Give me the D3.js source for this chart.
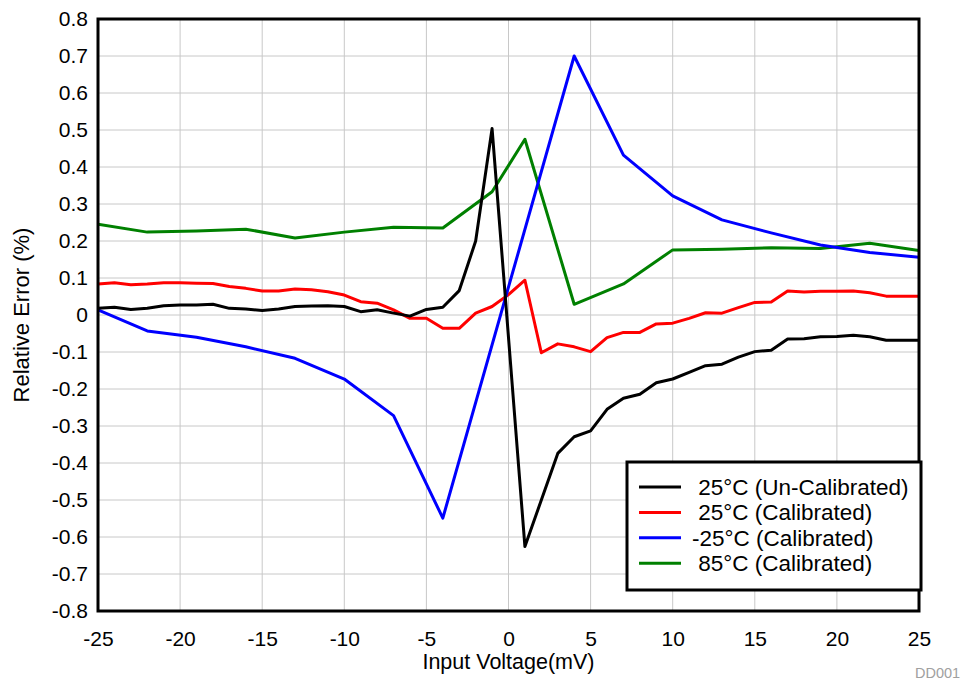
<!DOCTYPE html>
<html>
<head>
<meta charset="utf-8">
<script src="https://cdn.jsdelivr.net/npm/d3@7"></script>
<style>
  body { margin: 0; background: #fff; }
  svg { display: block; font-family: "Liberation Sans", Arial, sans-serif; }
  text { white-space: pre; }
</style>
</head>
<body>
<svg id="chart" width="963" height="682"></svg>
<script>
// ---- data ----
const uncal25X = [-25,-24,-23,-22,-21,-20,-19,-18,-17,-16,-15,-14,-13,-12,-11,-10,-9,-8,-7,-6,-5,-4,-3,-2,-1,
  1,2,3,4,5,6,7,8,9,10,11,12,13,14,15,16,17,18,19,20,21,22,23,24,25];
const uncal25Y = [0.018,0.021,0.015,0.018,0.025,0.027,0.027,0.029,0.018,0.016,0.012,0.016,0.023,0.024,0.025,0.023,0.009,0.014,0.005,-0.003,0.015,0.021,0.066,0.200,0.504,
  -0.626,-0.500,-0.374,-0.329,-0.313,-0.255,-0.225,-0.214,-0.183,-0.173,-0.155,-0.137,-0.133,-0.114,-0.099,-0.095,-0.065,-0.064,-0.059,-0.058,-0.055,-0.059,-0.068,-0.068,-0.068];

const cal25X = [-25,-24,-23,-22,-21,-20,-19,-18,-17,-16,-15,-14,-13,-12,-11,-10,-9,-8,-7,-6,-5,-4,-3,-2,-1,0,
  1,2,3,4,5,6,7,8,9,10,11,12,13,14,15,16,17,18,19,20,21,22,23,24,25];
const cal25Y = [0.084,0.087,0.082,0.084,0.087,0.087,0.086,0.085,0.077,0.072,0.065,0.065,0.070,0.068,0.063,0.054,0.036,0.032,0.014,-0.009,-0.009,-0.036,-0.036,0.005,0.023,0.055,
  0.094,-0.102,-0.078,-0.086,-0.099,-0.061,-0.047,-0.047,-0.024,-0.022,-0.009,0.006,0.005,0.020,0.034,0.035,0.065,0.062,0.064,0.064,0.065,0.060,0.051,0.051,0.051];

const calM25X = [-25,-22,-19,-16,-13,-10,-7,-4,4,7,10,13,16,19,22,25];
const calM25Y = [0.014,-0.043,-0.060,-0.086,-0.117,-0.173,-0.272,-0.549,0.700,0.432,0.322,0.257,0.222,0.189,0.169,0.156];

const cal85X = [-25,-22,-19,-16,-13,-10,-7,-4,-1,1,4,7,10,13,16,19,22,25];
const cal85Y = [0.245,0.224,0.227,0.232,0.208,0.224,0.237,0.235,0.333,0.475,0.029,0.084,0.176,0.178,0.182,0.180,0.194,0.174];

const seriesNames = [" 25°C (Un-Calibrated)", " 25°C (Calibrated)", "-25°C (Calibrated)", " 85°C (Calibrated)"];
const seriesColors = ["#000000", "#ff0000", "#0000ff", "#008000"];

const xTicks = [-25,-20,-15,-10,-5,0,5,10,15,20,25];
const yTicks = [-0.8,-0.7,-0.6,-0.5,-0.4,-0.3,-0.2,-0.1,0,0.1,0.2,0.3,0.4,0.5,0.6,0.7,0.8];
const xTitle = "Input Voltage(mV)";
const yTitle = "Relative Error (%)";
const watermark = "DD001";

// ---- layout ----
const svg = d3.select("#chart");
const L = 98, R = 919, T = 19, B = 611;
const x = d3.scaleLinear().domain([-25, 25]).range([L, R]);
const y = d3.scaleLinear().domain([-0.8, 0.8]).range([B, T]);

// grid
const grid = svg.append("g");
grid.selectAll(".vg").data(xTicks).join("line")
  .attr("x1", d => x(d)).attr("x2", d => x(d)).attr("y1", T).attr("y2", B)
  .attr("stroke", "#c8c8c8").attr("stroke-width", 1);
grid.selectAll(".hg").data(yTicks).join("line")
  .attr("x1", L).attr("x2", R).attr("y1", d => y(d)).attr("y2", d => y(d))
  .attr("stroke", "#c8c8c8").attr("stroke-width", 1);

// axes (labels only), hyphen-minus like the reference
const hyph = s => s.replace("\u2212", "-");
const fmtY = d => d === 0 ? "0" : hyph(d3.format(".1f")(d));
const fmtX = d => hyph(d3.format("d")(d));
const xAxis = d3.axisBottom(x).tickValues(xTicks).tickSize(0).tickPadding(20).tickFormat(fmtX);
const yAxis = d3.axisLeft(y).tickValues(yTicks).tickSize(0).tickPadding(10).tickFormat(fmtY);
const gx = svg.append("g").attr("transform", `translate(0,${B})`).call(xAxis);
const gy = svg.append("g").attr("transform", `translate(${L},0)`).call(yAxis);
[gx, gy].forEach(g => {
  g.select(".domain").remove();
  g.selectAll("text").attr("font-size", 21).attr("fill", "#000").attr("font-family", "Liberation Sans, Arial, sans-serif");
});

// series lines
const seriesData = [
  uncal25X.map((v, i) => [v, uncal25Y[i]]),
  cal25X.map((v, i) => [v, cal25Y[i]]),
  calM25X.map((v, i) => [v, calM25Y[i]]),
  cal85X.map((v, i) => [v, cal85Y[i]])
];
const line = d3.line().x(d => x(d[0])).y(d => y(d[1]));
const drawOrder = [3, 1, 2, 0];
const clipId = "plotclip";
svg.append("clipPath").attr("id", clipId).append("rect").attr("x", L).attr("y", T).attr("width", R - L).attr("height", B - T);
svg.append("g").attr("clip-path", `url(#${clipId})`)
  .selectAll("path").data(drawOrder).join("path")
  .attr("d", i => line(seriesData[i]))
  .attr("fill", "none").attr("stroke", i => seriesColors[i])
  .attr("stroke-width", 3).attr("stroke-linejoin", "round");

// frame
svg.append("rect").attr("x", L).attr("y", T).attr("width", R - L).attr("height", B - T)
  .attr("fill", "none").attr("stroke", "#000").attr("stroke-width", 3);

// titles
svg.append("text").attr("x", (L + R) / 2).attr("y", 668.5).attr("text-anchor", "middle")
  .attr("font-size", 21.5).text(xTitle);
svg.append("text").attr("transform", `translate(29,${(T + B) / 2}) rotate(-90)`).attr("text-anchor", "middle")
  .attr("font-size", 22).text(yTitle);

// legend
const lg = svg.append("g");
lg.append("rect").attr("x", 627).attr("y", 462).attr("width", 294).attr("height", 128)
  .attr("fill", "#fff").attr("stroke", "#000").attr("stroke-width", 3);
const rows = lg.selectAll("g.row").data(seriesNames).join("g")
  .attr("transform", (d, i) => `translate(0,${487 + i * 25.4})`);
rows.append("line").attr("x1", 639).attr("x2", 681).attr("y1", 0).attr("y2", 0)
  .attr("stroke", (d, i) => seriesColors[i]).attr("stroke-width", 3);
rows.append("text").attr("x", 692).attr("y", 8).attr("font-size", 22.5).text(d => d);

// watermark
svg.append("text").attr("x", 915).attr("y", 678).attr("font-size", 14.5).attr("fill", "#a0a0a0").text(watermark);
</script>
</body>
</html>
